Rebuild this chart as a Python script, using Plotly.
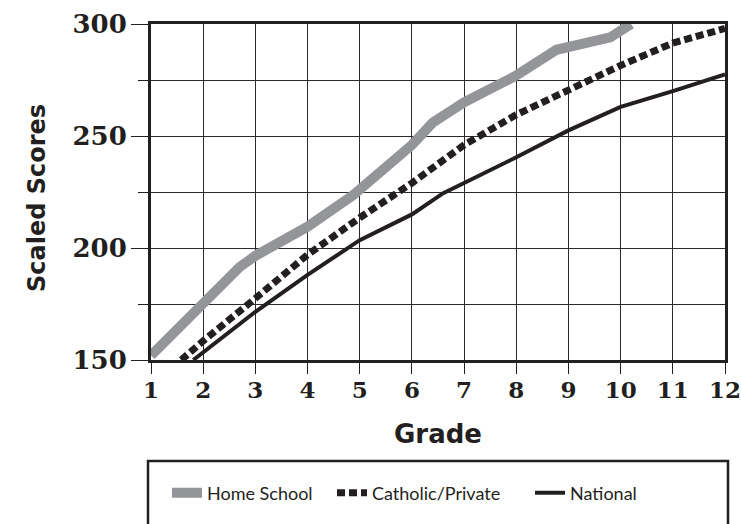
import plotly.graph_objects as go

# Data
grades = list(range(1, 13))
y_ticks = [150, 200, 250, 300]

home_x = [1, 2, 2.7, 3, 4, 4.87, 6, 6.4, 7, 8, 8.77, 9.8, 10.2]
home_y = [152, 174.5, 191.5, 196.5, 209.5, 223.5, 246, 256, 265, 277, 288.5, 294, 300]

cath_x = [1.58, 2, 3, 4, 5, 6, 7, 8, 9, 10, 11, 12]
cath_y = [150, 158.5, 177.5, 197, 213.5, 229, 246, 259.5, 270.5, 281.5, 291.5, 298]

nat_x = [1.81, 3, 4, 5, 6, 6.6, 7, 8, 9, 10, 11, 12]
nat_y = [150, 171.5, 188, 203.5, 215, 224.5, 229, 240.5, 252.5, 263, 270, 277.5]

GRAY = "#939598"
BLACK = "#231f20"

W, H = 741, 524
L, R, T, B = 151, 16, 24, 164
PW = W - L - R
PH = H - T - B

def px_x(p):  # window pixel -> paper x
    return (p - L) / PW

def px_y(p):  # window pixel -> paper y
    return (H - B - p) / PH

fig = go.Figure()
fig.add_trace(go.Scatter(x=home_x, y=home_y, mode="lines", name="Home School",
                         line=dict(color=GRAY, width=10), legend="legend"))
fig.add_trace(go.Scatter(x=cath_x, y=cath_y, mode="lines", name="Catholic/Private",
                         line=dict(color=BLACK, width=7, dash="8px,4px"), legend="legend2"))
fig.add_trace(go.Scatter(x=nat_x, y=nat_y, mode="lines", name="National",
                         line=dict(color=BLACK, width=4), legend="legend3"))

legend_font = dict(family="Lato", size=18, color=BLACK)
leg_common = dict(orientation="h", xanchor="left", yanchor="middle",
                  font=legend_font, bgcolor="rgba(0,0,0,0)", borderwidth=0)
ly = px_y(493)

fig.update_layout(
    width=W, height=H,
    margin=dict(l=L, r=R, t=T, b=B, autoexpand=False),
    paper_bgcolor="white", plot_bgcolor="white",
    showlegend=True,
    legend=dict(x=px_x(167), y=ly, **leg_common),
    legend2=dict(x=px_x(332), y=ly, **leg_common),
    legend3=dict(x=px_x(530), y=ly, **leg_common),
    xaxis=dict(
        range=[1, 12], tickvals=grades, ticktext=[str(g) for g in grades],
        showgrid=True, gridcolor="#2b2b2b", gridwidth=1.2,
        showline=True, mirror=True, linecolor=BLACK, linewidth=3,
        ticks="outside", ticklen=11, tickcolor=BLACK, tickwidth=1.2,
        ticklabelstandoff=-4, ticklabeloverflow="allow",
        tickfont=dict(family="DejaVu Serif", size=23, color=BLACK, weight="bold"),
        zeroline=False,
        title=dict(text="Grade", standoff=24,
                   font=dict(family="DejaVu Sans", size=26, color=BLACK, weight="bold")),
    ),
    yaxis=dict(
        range=[150, 300], tickvals=y_ticks, ticktext=[str(v) for v in y_ticks],
        showgrid=True, gridcolor="#2b2b2b", gridwidth=1.2,
        showline=True, mirror=True, linecolor=BLACK, linewidth=3,
        ticks="outside", ticklen=17, tickcolor=BLACK, tickwidth=1.2,
        ticklabelstandoff=-1,
        minor=dict(dtick=25, tick0=150, ticks="outside", ticklen=10, tickcolor=BLACK,
                   tickwidth=1.2, showgrid=True, gridcolor="#2b2b2b", gridwidth=1.2),
        tickfont=dict(family="DejaVu Serif", size=26, color=BLACK, weight="bold"),
        zeroline=False,
    ),
    annotations=[dict(text="Scaled Scores", xref="paper", yref="paper",
                      x=px_x(37), y=px_y(198), xanchor="center", yanchor="middle",
                      textangle=-90, showarrow=False,
                      font=dict(family="DejaVu Sans", size=24, color=BLACK, weight="bold"))],
    shapes=[dict(type="rect", xref="paper", yref="paper",
                 x0=px_x(148), x1=px_x(728), y0=px_y(540), y1=px_y(461),
                 line=dict(color=BLACK, width=2.5), fillcolor="rgba(0,0,0,0)")],
)

fig.write_html("out.html", config={"displayModeBar": False},
               post_script="document.body.style.margin='0';document.body.style.overflow='hidden';")
